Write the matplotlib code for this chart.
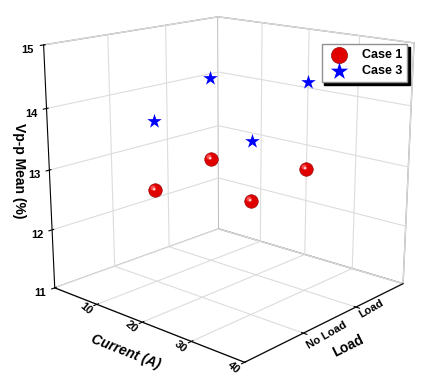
import numpy as np
import matplotlib.pyplot as plt
from matplotlib.path import Path

plt.rcParams['font.family'] = ['Liberation Sans', 'DejaVu Sans']
plt.rcParams['font.weight'] = 'bold'

# data
current = [10, 10, 30, 30]
load = [1, 2, 1, 2]          # 1 = No Load, 2 = Load
case1 = [12.58, 12.83, 12.83, 13.05]
case3 = [13.73, 14.23, 13.76, 14.45]
load_ticks = [1, 2]
load_labels = ['No Load', 'Load']

fig = plt.figure(figsize=(4.27, 3.80), dpi=100)
ax = fig.add_axes([0.026, 0.043, 1, 1], projection='3d')
ax.set_proj_type('persp', focal_length=0.55)
ax.view_init(elev=16, azim=-48)
ax.set_box_aspect((1, 0.96, 0.97), zoom=1.12)
ax.computed_zorder = False

# shaded "sphere" look: base disc + offset highlight discs
c = Path.circle((-1, 1), 1)
ax.scatter(current, load, case1, s=95, c='#e00000', edgecolors='#8a0000', linewidths=0.4,
           marker='o', depthshade=False, label='Case 1')
ax.scatter(current, load, case1, s=50, c='#ff5050', marker=c, linewidths=0, depthshade=False)
ax.scatter(current, load, case1, s=14, c='#ffd0d0', marker=c, linewidths=0, depthshade=False)
ax.scatter(current, load, case3, s=120, c='blue', marker='*', linewidths=0, depthshade=False,
           label='Case 3')

ax.set_xlim(0, 40)
ax.set_ylim(0, 3)
ax.set_zlim(11, 15)
ax.set_xticks([10, 20, 30, 40])
ax.set_yticks(load_ticks)
ax.set_yticklabels(load_labels)
ax.set_zticks([11, 12, 13, 14, 15])
ax.zaxis.set_ticks_position('lower')
ax.zaxis.set_label_position('lower')

for a in (ax.xaxis, ax.yaxis, ax.zaxis):
    a.set_pane_color((1, 1, 1, 1))
    a.pane.set_edgecolor('#a0a0a0')
    a._axinfo['grid']['color'] = '#dcdcdc'
    a._axinfo['grid']['linewidth'] = 0.8
    a._axinfo['axisline']['color'] = 'black'
    a._axinfo['axisline']['linewidth'] = 1.0

ax.tick_params(labelsize=8)
ax.tick_params(axis='x', pad=-6)
ax.tick_params(axis='y', pad=-7)
ax.tick_params(axis='z', pad=-2)
for t in ax.get_xticklabels():
    t.set_rotation(-40)
    t.set_ha('right')
    t.set_va('center')
for t in ax.get_yticklabels():
    t.set_rotation(30)
    t.set_ha('left')
    t.set_va('center')

ax.yaxis.set_rotate_label(True)
ax.zaxis.set_rotate_label(False)
ax.set_xlabel('Current (A)', fontsize=10, fontstyle='italic', fontweight='bold', labelpad=-8)
ax.set_ylabel('Load', fontsize=10, fontweight='bold', labelpad=-9)
ax.set_zlabel('Vp-p Mean (%)', fontsize=10, fontweight='bold', labelpad=-9, rotation=-90)

fig.legend(loc='upper right', bbox_to_anchor=(0.953, 0.884), fontsize=9,
           fancybox=False, edgecolor='#909090', framealpha=1,
           shadow={'color': 'black', 'alpha': 1}, handletextpad=0.8,
           borderpad=0.4, labelspacing=0.3, borderaxespad=0, markerscale=1.2)

fig.savefig('out.png', dpi=100)
